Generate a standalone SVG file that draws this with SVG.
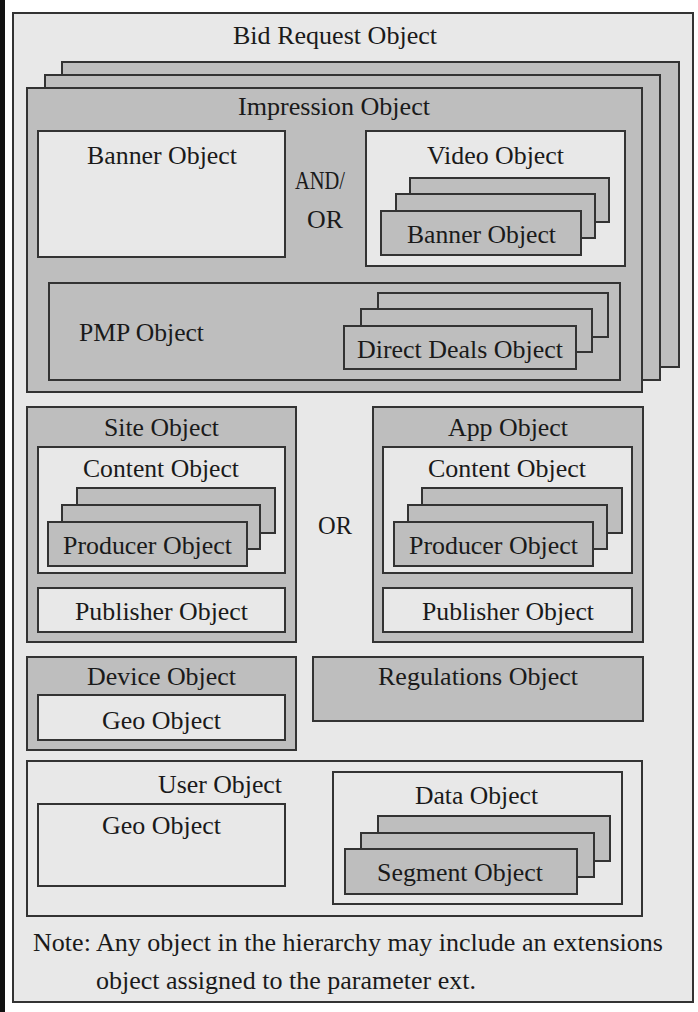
<svg xmlns="http://www.w3.org/2000/svg" width="698" height="1012" viewBox="0 0 698 1012">
<style>
.lt{fill:#e8e8e8;stroke:#333;stroke-width:2}
.gr{fill:#bebebe;stroke:#333;stroke-width:2}
text{font-family:"Liberation Serif","Times New Roman",serif;font-size:26px;fill:#1a1a1a}
</style>
<rect x="0" y="0" width="698" height="1012" fill="#ffffff"/>
<rect x="0" y="0" width="5" height="1012" fill="#111"/>
<g id="bid-request">
<rect class="lt" x="13" y="13" width="680" height="989"/>
<text x="233" y="44" textLength="204" lengthAdjust="spacingAndGlyphs">Bid Request Object</text>
</g>
<g id="impression">
<rect class="gr" x="62" y="62" width="617" height="305"/>
<rect class="gr" x="45" y="75" width="615" height="305"/>
<rect class="gr" x="27" y="88" width="615" height="304"/>
<text x="238" y="115" textLength="192" lengthAdjust="spacingAndGlyphs">Impression Object</text>
</g>
<g id="banner">
<rect class="lt" x="38" y="131" width="247" height="126"/>
<text x="87" y="164" textLength="150" lengthAdjust="spacingAndGlyphs">Banner Object</text>
</g>
<g id="and-or">
<text x="295" y="189" textLength="50" lengthAdjust="spacingAndGlyphs">AND/</text>
<text x="307" y="228" textLength="36" lengthAdjust="spacingAndGlyphs">OR</text>
</g>
<g id="video">
<rect class="lt" x="366" y="131" width="259" height="135"/>
<text x="427" y="164" textLength="137" lengthAdjust="spacingAndGlyphs">Video Object</text>
</g>
<g id="video-banner">
<rect class="gr" x="410" y="178" width="199" height="44"/>
<rect class="gr" x="396" y="194" width="199" height="44"/>
<rect class="gr" x="381" y="211" width="200" height="44"/>
<text x="407" y="243" textLength="149" lengthAdjust="spacingAndGlyphs">Banner Object</text>
</g>
<g id="pmp">
<rect class="gr" x="49" y="283" width="571" height="97"/>
<text x="79" y="341" textLength="125" lengthAdjust="spacingAndGlyphs">PMP Object</text>
</g>
<g id="direct-deals">
<rect class="gr" x="378" y="293" width="230" height="44"/>
<rect class="gr" x="361" y="309" width="231" height="43"/>
<rect class="gr" x="344" y="326" width="232" height="43"/>
<text x="357" y="358" textLength="206" lengthAdjust="spacingAndGlyphs">Direct Deals Object</text>
</g>
<g id="site">
<rect class="gr" x="27" y="407" width="269" height="235"/>
<text x="104" y="436" textLength="115" lengthAdjust="spacingAndGlyphs">Site Object</text>
</g>
<g id="site-content">
<rect class="lt" x="38" y="447" width="247" height="126"/>
<text x="83" y="477" textLength="156" lengthAdjust="spacingAndGlyphs">Content Object</text>
</g>
<g id="site-producer">
<rect class="gr" x="77" y="488" width="198" height="45"/>
<rect class="gr" x="62" y="505" width="198" height="44"/>
<rect class="gr" x="48" y="522" width="199" height="44"/>
<text x="63" y="554" textLength="169" lengthAdjust="spacingAndGlyphs">Producer Object</text>
</g>
<g id="site-publisher">
<rect class="lt" x="38" y="588" width="247" height="44"/>
<text x="75" y="620" textLength="173" lengthAdjust="spacingAndGlyphs">Publisher Object</text>
</g>
<g id="or-label">
<text x="318" y="534" textLength="34" lengthAdjust="spacingAndGlyphs">OR</text>
</g>
<g id="app">
<rect class="gr" x="373" y="407" width="270" height="235"/>
<text x="448" y="436" textLength="120" lengthAdjust="spacingAndGlyphs">App Object</text>
</g>
<g id="app-content">
<rect class="lt" x="383" y="447" width="249" height="126"/>
<text x="428" y="477" textLength="158" lengthAdjust="spacingAndGlyphs">Content Object</text>
</g>
<g id="app-producer">
<rect class="gr" x="422" y="488" width="200" height="45"/>
<rect class="gr" x="408" y="505" width="199" height="44"/>
<rect class="gr" x="394" y="522" width="199" height="44"/>
<text x="409" y="554" textLength="169" lengthAdjust="spacingAndGlyphs">Producer Object</text>
</g>
<g id="app-publisher">
<rect class="lt" x="383" y="588" width="249" height="44"/>
<text x="422" y="620" textLength="172" lengthAdjust="spacingAndGlyphs">Publisher Object</text>
</g>
<g id="device">
<rect class="gr" x="27" y="657" width="269" height="93"/>
<text x="87" y="685" textLength="149" lengthAdjust="spacingAndGlyphs">Device Object</text>
</g>
<g id="device-geo">
<rect class="lt" x="38" y="695" width="247" height="45"/>
<text x="102" y="729" textLength="119" lengthAdjust="spacingAndGlyphs">Geo Object</text>
</g>
<g id="regulations">
<rect class="gr" x="313" y="657" width="330" height="64"/>
<text x="378" y="685" textLength="200" lengthAdjust="spacingAndGlyphs">Regulations Object</text>
</g>
<g id="user">
<rect class="lt" x="27" y="761" width="615" height="155"/>
<text x="158" y="793" textLength="124" lengthAdjust="spacingAndGlyphs">User Object</text>
</g>
<g id="user-geo">
<rect class="lt" x="38" y="804" width="247" height="82"/>
<text x="102" y="834" textLength="119" lengthAdjust="spacingAndGlyphs">Geo Object</text>
</g>
<g id="data">
<rect class="lt" x="333" y="772" width="289" height="132"/>
<text x="415" y="804" textLength="123" lengthAdjust="spacingAndGlyphs">Data Object</text>
</g>
<g id="segment">
<rect class="gr" x="378" y="816" width="232" height="45"/>
<rect class="gr" x="361" y="833" width="233" height="44"/>
<rect class="gr" x="345" y="849" width="232" height="45"/>
<text x="377" y="881" textLength="166" lengthAdjust="spacingAndGlyphs">Segment Object</text>
</g>
<g id="note">
<text x="33" y="951" textLength="630" lengthAdjust="spacingAndGlyphs">Note: Any object in the hierarchy may include an extensions</text>
<text x="96" y="989" textLength="380" lengthAdjust="spacingAndGlyphs">object assigned to the parameter ext.</text>
</g>
<g id="connectors"/>
</svg>
